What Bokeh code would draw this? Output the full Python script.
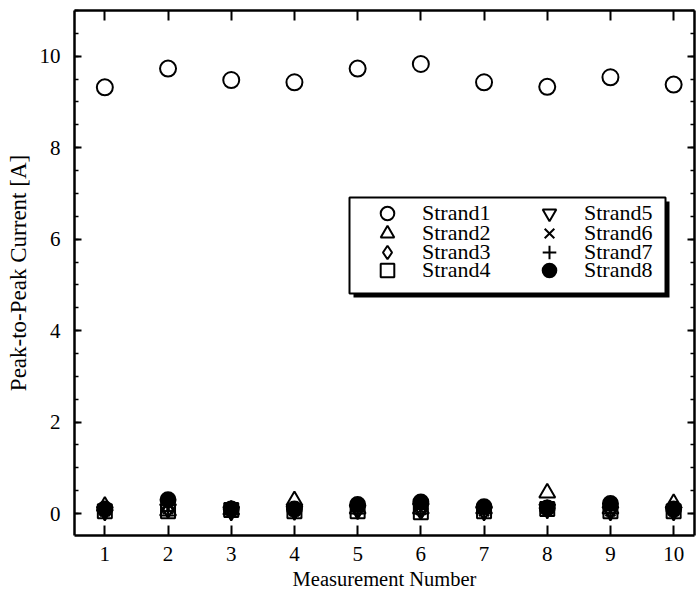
from bokeh.plotting import figure
from bokeh.models import (Range1d, LinearAxis, FixedTicker, SingleIntervalTicker,
                          Legend, LegendItem, BoxAnnotation)
from bokeh.embed import file_html
from bokeh.resources import INLINE

# Peak-to-peak current of each strand over ten repeated measurements
measurement = [1, 2, 3, 4, 5, 6, 7, 8, 9, 10]
strand1 = [9.32, 9.73, 9.48, 9.43, 9.73, 9.83, 9.43, 9.33, 9.54, 9.38]
strand2 = [0.16, 0.06, 0.08, 0.28, 0.10, 0.10, 0.10, 0.45, 0.10, 0.22]
strand3 = [0.06, 0.10, 0.05, 0.06, 0.10, 0.05, 0.05, 0.12, 0.08, 0.05]
strand4 = [0.05, 0.05, 0.08, 0.05, 0.05, 0.03, 0.05, 0.10, 0.05, 0.05]
strand5 = [0.05, 0.10, 0.05, 0.06, 0.08, 0.12, 0.05, 0.10, 0.05, 0.05]
strand6 = [0.05, 0.10, 0.08, 0.05, 0.10, 0.08, 0.05, 0.10, 0.05, 0.05]
strand7 = [0.08, 0.05, 0.10, 0.08, 0.05, 0.10, 0.08, 0.05, 0.08, 0.08]
strand8 = [0.10, 0.30, 0.10, 0.10, 0.20, 0.25, 0.15, 0.12, 0.22, 0.10]

x_ticks = [1, 2, 3, 4, 5, 6, 7, 8, 9, 10]
FONT = "Liberation Serif"

p = figure(width=697, height=604, output_backend="svg", toolbar_location=None,
           x_range=Range1d(0.52, 10.33), y_range=Range1d(-0.48, 11.0),
           min_border_left=74, min_border_right=3, min_border_top=10, min_border_bottom=69,
           background_fill_color="white", border_fill_color="white")
p.outline_line_color = None
p.xgrid.visible = False
p.ygrid.visible = False


def style_x(ax, labels=True):
    ax.ticker = FixedTicker(ticks=x_ticks, minor_ticks=[])
    ax.major_tick_in = 10
    ax.major_tick_out = 0
    ax.minor_tick_in = 0
    ax.minor_tick_out = 0
    ax.axis_line_color = "black"
    ax.axis_line_width = 2.5
    ax.major_tick_line_width = 2
    ax.major_tick_line_color = "black"
    if labels:
        ax.major_label_text_font = FONT
        ax.major_label_text_font_size = "21px"
        ax.major_label_text_color = "black"
        ax.major_label_standoff = 11
    else:
        ax.major_label_text_font_size = "0px"
        ax.major_label_standoff = 0


def style_y(ax, labels=True):
    ax.ticker = SingleIntervalTicker(interval=2, num_minor_ticks=4)
    ax.major_tick_in = 7
    ax.major_tick_out = 0
    ax.minor_tick_in = 4
    ax.minor_tick_out = 0
    ax.axis_line_color = "black"
    ax.axis_line_width = 2.5
    ax.major_tick_line_width = 2
    ax.minor_tick_line_width = 1.5
    ax.major_tick_line_color = "black"
    ax.minor_tick_line_color = "black"
    if labels:
        ax.major_label_text_font = FONT
        ax.major_label_text_font_size = "21px"
        ax.major_label_text_color = "black"
        ax.major_label_standoff = 14
    else:
        ax.major_label_text_font_size = "0px"
        ax.major_label_standoff = 0


xb = p.xaxis[0]
style_x(xb)
xb.axis_label = "Measurement Number"
xb.axis_label_text_font = FONT
xb.axis_label_text_font_size = "20.5px"
xb.axis_label_text_font_style = "normal"
xb.axis_label_text_color = "black"
xb.axis_label_standoff = 4

yl = p.yaxis[0]
style_y(yl)
yl.axis_label = "Peak-to-Peak Current [A]"
yl.axis_label_text_font = FONT
yl.axis_label_text_font_size = "23px"
yl.axis_label_text_font_style = "normal"
yl.axis_label_text_color = "black"
yl.axis_label_standoff = 6

top_axis = LinearAxis()
style_x(top_axis, labels=False)
p.add_layout(top_axis, "above")

right_axis = LinearAxis()
style_y(right_axis, labels=False)
p.add_layout(right_axis, "right")

series = [
    ("Strand1", strand1, "circle", 16, None),
    ("Strand2", strand2, "triangle", 16, None),
    ("Strand3", strand3, "diamond", 16, None),
    ("Strand4", strand4, "square", 14, None),
    ("Strand5", strand5, "inverted_triangle", 16, None),
    ("Strand6", strand6, "x", 14, None),
    ("Strand7", strand7, "cross", 15, None),
    ("Strand8", strand8, "circle", 15, "black"),
]

items = []
for name, vals, marker, size, fill in series:
    r = p.scatter(measurement, vals, marker=marker, size=size,
                  line_color="black", line_width=2,
                  fill_color=fill if fill else "white",
                  fill_alpha=1.0 if fill else 0.0)
    items.append(LegendItem(label=name, renderers=[r]))

# Legend frame (screen units from the frame's lower-left corner) with a drop shadow
box_kw = dict(left_units="screen", right_units="screen",
              bottom_units="screen", top_units="screen", level="underlay")
shadow = BoxAnnotation(left=279, right=595, bottom=238, top=334,
                       fill_color="black", fill_alpha=1.0, line_color=None, **box_kw)
box = BoxAnnotation(left=275, right=591, bottom=242, top=338,
                    fill_color="white", fill_alpha=1.0,
                    line_color="black", line_width=2, line_alpha=1.0, **box_kw)
p.add_layout(shadow)
p.add_layout(box)

# One single-entry legend per slot: two columns of four rows
col_x = [295, 457]
row_y = [305, 285, 266, 248]
for i, item in enumerate(items):
    leg = Legend(items=[item], location=(col_x[i // 4], row_y[i % 4]),
                 label_text_font=FONT, label_text_font_size="22px",
                 label_text_color="black",
                 glyph_width=36, glyph_height=34, label_height=19,
                 label_standoff=17, spacing=0, padding=0, margin=0,
                 border_line_color=None, background_fill_alpha=0.0)
    p.add_layout(leg, "center")

open("out.html", "w").write(file_html(p, INLINE))
